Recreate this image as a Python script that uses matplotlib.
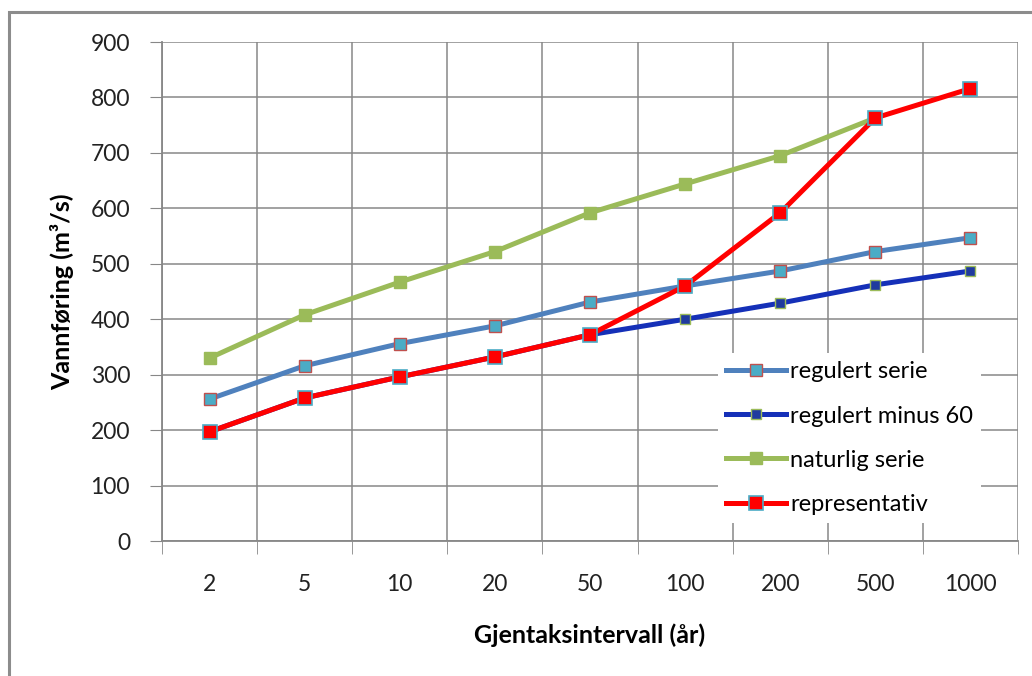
import matplotlib.pyplot as plt
from matplotlib.patches import Rectangle
import numpy as np

plt.rcParams["font.family"] = ["Lato", "DejaVu Sans"]

categories = ["2", "5", "10", "20", "50", "100", "200", "500", "1000"]
regulert = [256, 316, 356, 388, 431, 460, 487, 522, 547]
regulert_minus_60 = [197, 258, 296, 332, 372, 400, 429, 462, 487]
naturlig = [330, 408, 467, 522, 592, 644, 695, 763, np.nan]
representativ = [197, 258, 296, 332, 372, 460, 592, 763, 816]

x = np.arange(len(categories))
grid_c = "#878787"

fig = plt.figure(figsize=(10.32, 6.76), dpi=100)
ax = fig.add_axes([162 / 1032, 1 - 541 / 676, 856 / 1032, 499 / 676])

# figure border (Excel chart area)
fig.patches.append(Rectangle((9 / 1032, -0.05), 1.1, 1 - 12 / 676 + 0.05,
                             transform=fig.transFigure, fill=False,
                             edgecolor="#8c8c8c", linewidth=2.2))

ax.plot(x, regulert, color="#4F81BD", lw=3.6, marker="s", ms=8,
        mfc="#4BACC6", mec="#C0504D", mew=1.0, label="regulert serie", zorder=3)
ax.plot(x, regulert_minus_60, color="#1530B8", lw=3.6, marker="s", ms=7,
        mfc="#1F3A9E", mec="#9BBB59", mew=1.0, label="regulert minus 60", zorder=3)
ax.plot(x, naturlig, color="#9BBB59", lw=3.6, marker="s", ms=8,
        mfc="#9BBB59", mec="#9BBB59", label="naturlig serie", zorder=3)
ax.plot(x, representativ, color="#FF0000", lw=3.6, marker="s", ms=10,
        mfc="#FF0000", mec="#4BACC6", mew=1.2, label="representativ", zorder=4)

ax.set_xlim(-0.5, len(categories) - 0.5)
ax.set_ylim(0, 900)
ax.set_yticks(np.arange(0, 901, 100))
ax.set_xticks(x)
ax.set_xticklabels(categories)
ax.set_xticks(np.arange(-0.5, len(categories)), minor=True)

ax.grid(True, which="major", axis="y", color=grid_c, lw=1.1)
ax.grid(True, which="minor", axis="x", color=grid_c, lw=1.1)
ax.set_axisbelow(True)

for side in ["top", "right"]:
    ax.spines[side].set_visible(False)
for side in ["left", "bottom"]:
    ax.spines[side].set_color(grid_c)
    ax.spines[side].set_linewidth(1.3)

ax.tick_params(axis="y", which="major", length=9, color=grid_c, pad=14,
               labelsize=16.5, labelcolor="#222222")
ax.tick_params(axis="x", which="major", length=0, pad=24, labelsize=16.5,
               labelcolor="#222222")
ax.tick_params(axis="x", which="minor", length=9, color=grid_c)

ax.set_ylabel("Vannføring (m³/s)", fontsize=18, fontweight="bold", labelpad=12)
ax.set_xlabel("Gjentaksintervall (år)", fontsize=18, fontweight="bold", labelpad=20)

leg = ax.legend(loc="upper left", bbox_to_anchor=(0.636, 0.40), fontsize=17,
                frameon=True, fancybox=False, edgecolor="none", framealpha=1,
                handlelength=2.5, handletextpad=0.2, labelspacing=0.98,
                borderpad=0.35)
leg.get_frame().set_facecolor("white")

fig.savefig("out.png", dpi=100)
